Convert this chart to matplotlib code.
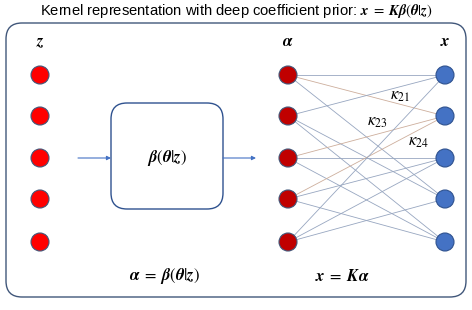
import matplotlib
matplotlib.use("Agg")
import matplotlib.pyplot as plt
from matplotlib.patches import FancyBboxPatch, Circle

plt.rcParams['font.family'] = ['Liberation Sans', 'DejaVu Sans']
plt.rcParams['mathtext.fontset'] = 'stix'

# data: node rows, edges alpha -> x, highlighted edges, labels
row_y = [75, 116, 158, 199, 242]
edges = [(0, 0), (0, 1), (0, 3),
         (1, 0), (1, 3), (1, 4),
         (2, 1), (2, 2), (2, 4),
         (3, 1), (3, 2), (3, 4),
         (4, 0), (4, 2), (4, 3)]
orange_edges = [(0, 1), (2, 1), (3, 1)]
kappa_labels = [r'$\kappa_{21}$', r'$\kappa_{23}$', r'$\kappa_{24}$']
kappa_pos = [(400, 97), (377, 122), (418, 143)]
col_labels = [r'$\boldsymbol{z}$', r'$\boldsymbol{\alpha}$', r'$\boldsymbol{x}$']
col_x = [40, 288, 445]
node_fill = ['#FF0000', '#C00000', '#4472C4']
node_edge = ['#41577A', '#41577A', '#2F528F']

B = r'\boldsymbol'
EQ = r'\;=\;'
title = (r'Kernel representation with deep coefficient prior: '
         rf'${B}{{x}}{EQ}{B}{{K\beta}}({B}{{\theta}}|{B}{{z}})$')
beta_txt = rf'${B}{{\beta}}({B}{{\theta}}|{B}{{z}})$'
alpha_eq = rf'${B}{{\alpha}}{EQ}{B}{{\beta}}({B}{{\theta}}|{B}{{z}})$'
x_eq = rf'${B}{{x}}{EQ}{B}{{K\alpha}}$'

fig = plt.figure(figsize=(4.72, 3.10), dpi=100)
ax = fig.add_axes([0, 0, 1, 1])
ax.set_xlim(0, 472)
ax.set_ylim(310, 0)
ax.axis('off')

# title
ax.text(236, 11, title, ha='center', va='center', fontsize=10.6)

# outer frame
ax.add_patch(FancyBboxPatch((6, 23), 460, 274, boxstyle='round,pad=0,rounding_size=16',
                            fc='none', ec='#41577A', lw=1.0))

# inner beta box
ax.add_patch(FancyBboxPatch((111, 103), 112, 106, boxstyle='round,pad=0,rounding_size=16',
                            fc='white', ec='#2F528F', lw=1.0))
ax.text(167, 158, beta_txt, ha='center', va='center', fontsize=12)

# arrows
for x0, x1 in [(78, 111), (223, 256)]:
    ax.annotate('', xy=(x1, row_y[2]), xytext=(x0, row_y[2]),
                arrowprops=dict(arrowstyle='-|>', color='#4472C4', lw=0.8,
                                mutation_scale=6, shrinkA=0, shrinkB=0))

# edges
for a, b in edges:
    c = '#CDAE9C' if (a, b) in orange_edges else '#97A6C0'
    ax.plot([col_x[1], col_x[2]], [row_y[a], row_y[b]], color=c, lw=0.6, zorder=1)

for lbl, (kx, ky) in zip(kappa_labels, kappa_pos):
    ax.text(kx, ky, lbl, ha='center', va='center', fontsize=12)

# nodes and column labels
for ci, cx in enumerate(col_x):
    ax.text(cx, 42, col_labels[ci], ha='center', va='center', fontsize=12)
    for ry in row_y:
        ax.add_patch(Circle((cx, ry), 9, fc=node_fill[ci], ec=node_edge[ci], lw=0.8, zorder=3))

ax.text(165, 276, alpha_eq, ha='center', va='center', fontsize=12)
ax.text(342, 276, x_eq, ha='center', va='center', fontsize=12)

fig.savefig('out.png', dpi=100)
